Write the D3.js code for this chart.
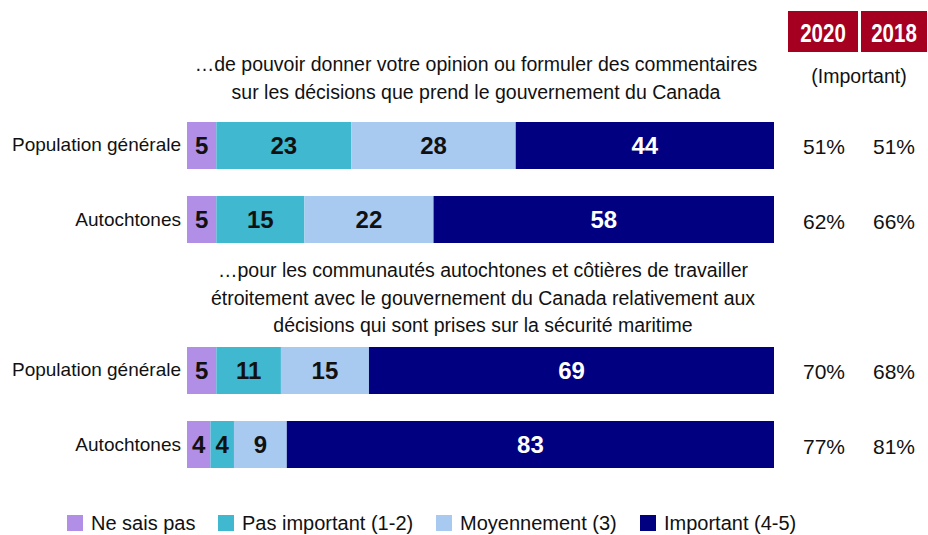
<!DOCTYPE html>
<html><head><meta charset="utf-8">
<script src="https://cdn.jsdelivr.net/npm/d3@7"></script>
<style>body{margin:0;background:#fff;}svg{font-family:"Liberation Sans",Arial,sans-serif;}</style>
</head><body><svg id="c" width="928" height="535"></svg>
<script>
const categories = ["Population générale", "Autochtones"];
const seriesNames = ["Ne sais pas", "Pas important (1-2)", "Moyennement (3)", "Important (4-5)"];
const seriesColors = ["#B18FE6", "#40B8CF", "#A8CAF0", "#000080"];
const labelColors = ["#111", "#111", "#111", "#fff"];
const groupTitles = [
  ["…de pouvoir donner votre opinion ou formuler des commentaires", "sur les décisions que prend le gouvernement du Canada"],
  ["…pour les communautés autochtones et côtières de travailler", "étroitement avec le gouvernement du Canada relativement aux", "décisions qui sont prises sur la sécurité maritime"]
];
const g1NeSaisPas = [5, 5];
const g1PasImportant = [23, 15];
const g1Moyennement = [28, 22];
const g1Important = [44, 58];
const g2NeSaisPas = [5, 4];
const g2PasImportant = [11, 4];
const g2Moyennement = [15, 9];
const g2Important = [69, 83];
const important2020 = ["51%", "62%", "70%", "77%"];
const important2018 = ["51%", "66%", "68%", "81%"];
const yearLabels = ["2020", "2018"];
const subHeader = "(Important)";

const groups = [
  [g1NeSaisPas, g1PasImportant, g1Moyennement, g1Important],
  [g2NeSaisPas, g2PasImportant, g2Moyennement, g2Important]
];

const svg = d3.select("#c");
const x = d3.scaleLinear().domain([0, 100]).range([187, 774]);
const yInner = d3.scaleBand().domain(categories).range([0, 121]).paddingInner(0.365).paddingOuter(0);
const groupTop = [122, 347];
const titleY = [[71, 98.5], [277, 304.5, 332]];
const titleX = [476, 483];

// header
const colX = [824, 894];
yearLabels.forEach((t, i) => {
  const bx = i === 0 ? 788 : 861;
  const bw = i === 0 ? 70 : 66;
  svg.append("rect").attr("x", bx).attr("y", 11).attr("width", bw).attr("height", 41).attr("fill", "#A5001F");
  svg.append("text").attr("transform", `translate(${bx + bw / 2},42) scale(0.82,1)`).attr("text-anchor", "middle")
    .attr("font-size", 25).attr("font-weight", "bold").attr("fill", "#fff").text(t);
});
svg.append("text").attr("x", 859).attr("y", 83).attr("text-anchor", "middle").attr("font-size", 19.5).attr("fill", "#111").text(subHeader);

groups.forEach((series, gi) => {
  const g = svg.append("g").attr("transform", `translate(0,${groupTop[gi]})`);
  groupTitles[gi].forEach((line, li) => {
    svg.append("text").attr("x", titleX[gi]).attr("y", titleY[gi][li]).attr("text-anchor", "middle")
      .attr("font-size", 19.5).attr("fill", "#111").text(line);
  });
  categories.forEach((cat, ci) => {
    let cum = 0;
    const yy = yInner(cat);
    const mid = yy + yInner.bandwidth() / 2;
    series.forEach((vals, si) => {
      const v = vals[ci];
      g.append("rect").attr("x", x(cum)).attr("y", yy).attr("width", x(cum + v) - x(cum))
        .attr("height", yInner.bandwidth()).attr("fill", seriesColors[si]);
      g.append("text").attr("x", (x(cum) + x(cum + v)) / 2).attr("y", mid + 8.5)
        .attr("text-anchor", "middle").attr("font-size", 24).attr("font-weight", "bold")
        .attr("fill", labelColors[si]).text(v);
      cum += v;
    });
    g.append("text").attr("x", 181).attr("y", mid + 6).attr("text-anchor", "end")
      .attr("font-size", 19).attr("fill", "#111").text(cat);
    const idx = gi * 2 + ci;
    g.append("text").attr("x", colX[0]).attr("y", mid + 9).attr("text-anchor", "middle")
      .attr("font-size", 21).attr("fill", "#111").text(important2020[idx]);
    g.append("text").attr("x", colX[1]).attr("y", mid + 9).attr("text-anchor", "middle")
      .attr("font-size", 21).attr("fill", "#111").text(important2018[idx]);
  });
});

// legend
const legendX = [67, 218, 436, 640];
seriesNames.forEach((n, i) => {
  svg.append("rect").attr("x", legendX[i]).attr("y", 515).attr("width", 16).attr("height", 16).attr("fill", seriesColors[i]);
  svg.append("text").attr("x", legendX[i] + 24).attr("y", 530).attr("font-size", 20).attr("fill", "#111").text(n);
});
</script></body></html>
